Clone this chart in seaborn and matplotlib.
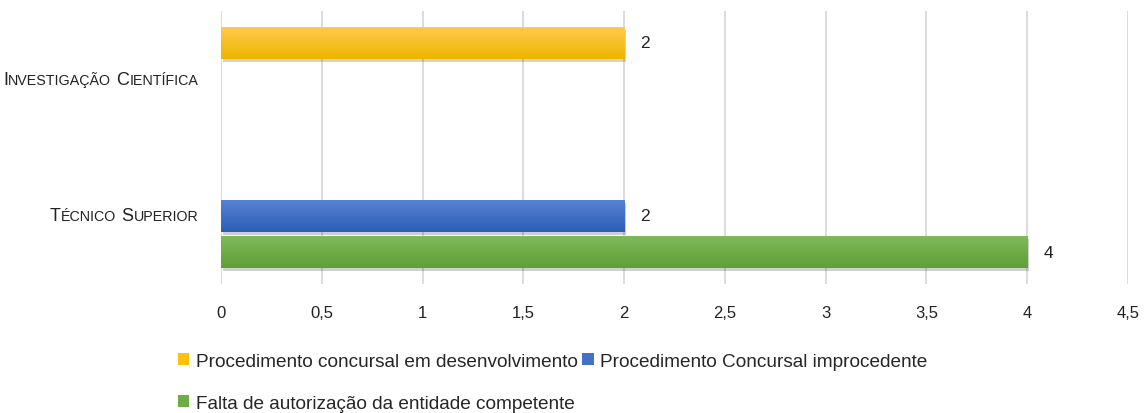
import numpy as np
import pandas as pd
import matplotlib.pyplot as plt
import matplotlib.patheffects as pe
from matplotlib.patches import Patch
from matplotlib.colors import LinearSegmentedColormap
from matplotlib.offsetbox import TextArea, HPacker, AnnotationBbox
import seaborn as sns

categories = ["Investigação Científica", "Técnico Superior"]
series = ["Procedimento concursal em desenvolvimento",
          "Procedimento Concursal improcedente",
          "Falta de autorização da entidade competente"]
colors = ["#FEC10E", "#4471C6", "#6EAD45"]
grad = [("#FFCA4C", "#EDB500"), ("#5784D4", "#2D5DB7"), ("#7FBA5C", "#609F38")]
desenvolvimento = [2, None]
improcedente = [None, 2]
falta_autorizacao = [None, 4]

rows = []
for s, vals in zip(series, [desenvolvimento, improcedente, falta_autorizacao]):
    for c, v in zip(categories, vals):
        if v is not None:
            rows.append((c, s, v))
df = pd.DataFrame(rows, columns=["categoria", "motivo", "n"])

sns.set_style("white")
plt.rcParams['font.family'] = ['Liberation Sans', 'DejaVu Sans']

fig = plt.figure(figsize=(11.45, 4.14), dpi=100)
ax = fig.add_axes([0.193, 0.3116, 0.7922, 0.6594])
sns.barplot(data=df, y="categoria", x="n", hue="motivo", order=categories,
            hue_order=series, palette=colors, orient="h", width=0.8, gap=0.12,
            saturation=1, errorbar=None, legend=False, linewidth=0, ax=ax)

xt = np.arange(0, 4.51, 0.5)
ax.set_xticks(xt)
ax.set_xticklabels([f"{t:g}".replace('.', ',') for t in xt])
ax.grid(axis='x', color='#d9d9d9', linewidth=1.3)
ax.set_axisbelow(True)
sns.despine(ax=ax, left=True, bottom=True)
ax.tick_params(axis='x', length=0, pad=15, labelsize=12, labelcolor='#222222')
ax.tick_params(axis='y', length=0)
ax.set_yticklabels([])
ax.set_xlabel('')
ax.set_ylabel('')

# shadow + vertical gradient on the bars
for cont, (c_top, c_bot) in zip(ax.containers, grad):
    cmap = LinearSegmentedColormap.from_list("g", [c_top, c_bot])
    for bar in cont:
        bar.set_path_effects([pe.SimplePatchShadow(offset=(1.5, -2), alpha=0.22), pe.Normal()])
        x0, y0, w, h = bar.get_x(), bar.get_y(), bar.get_width(), bar.get_height()
        im = ax.imshow(np.linspace(0, 1, 64).reshape(-1, 1), cmap=cmap, aspect='auto',
                       extent=(x0, x0 + w, y0 + h, y0), zorder=bar.get_zorder() + 0.1,
                       interpolation='bilinear')
        im.set_clip_path(bar)
    ax.bar_label(cont, fmt='%g', padding=11.5, fontsize=12.5, color='#222222')

ax.set_xlim(0, 4.5)
ax.set_ylim(1.5, -0.5)

# category labels in small caps
def small_caps(text, big=13, small=10.3):
    words = []
    for w in text.split(' '):
        words.append(HPacker(children=[
            TextArea(w[0].upper(), textprops=dict(fontsize=big, color='#222222')),
            TextArea(w[1:].upper(), textprops=dict(fontsize=small, color='#222222'))],
            sep=0, pad=0, align="baseline"))
    return HPacker(children=words, sep=4, pad=0, align="baseline")

for i, cat in enumerate(categories):
    ab = AnnotationBbox(small_caps(cat), (-0.025, i), xycoords=ax.get_yaxis_transform(),
                        box_alignment=(1.0, 0.5), frameon=False, pad=0)
    ax.add_artist(ab)

handles = [Patch(facecolor=c, edgecolor='none') for c in colors]
order = [0, 2, 1]
fig.legend([handles[i] for i in order], [series[i] for i in order],
           loc='upper left', bbox_to_anchor=(0.1555, 0.145), ncol=2, frameon=False,
           borderpad=0, borderaxespad=0, handlelength=0.6, handleheight=0.6,
           handletextpad=0.35, columnspacing=0.22, labelspacing=1.3,
           prop=dict(family=['Liberation Sans', 'DejaVu Sans'], size=13.7))

fig.savefig("out.png", dpi=100)
